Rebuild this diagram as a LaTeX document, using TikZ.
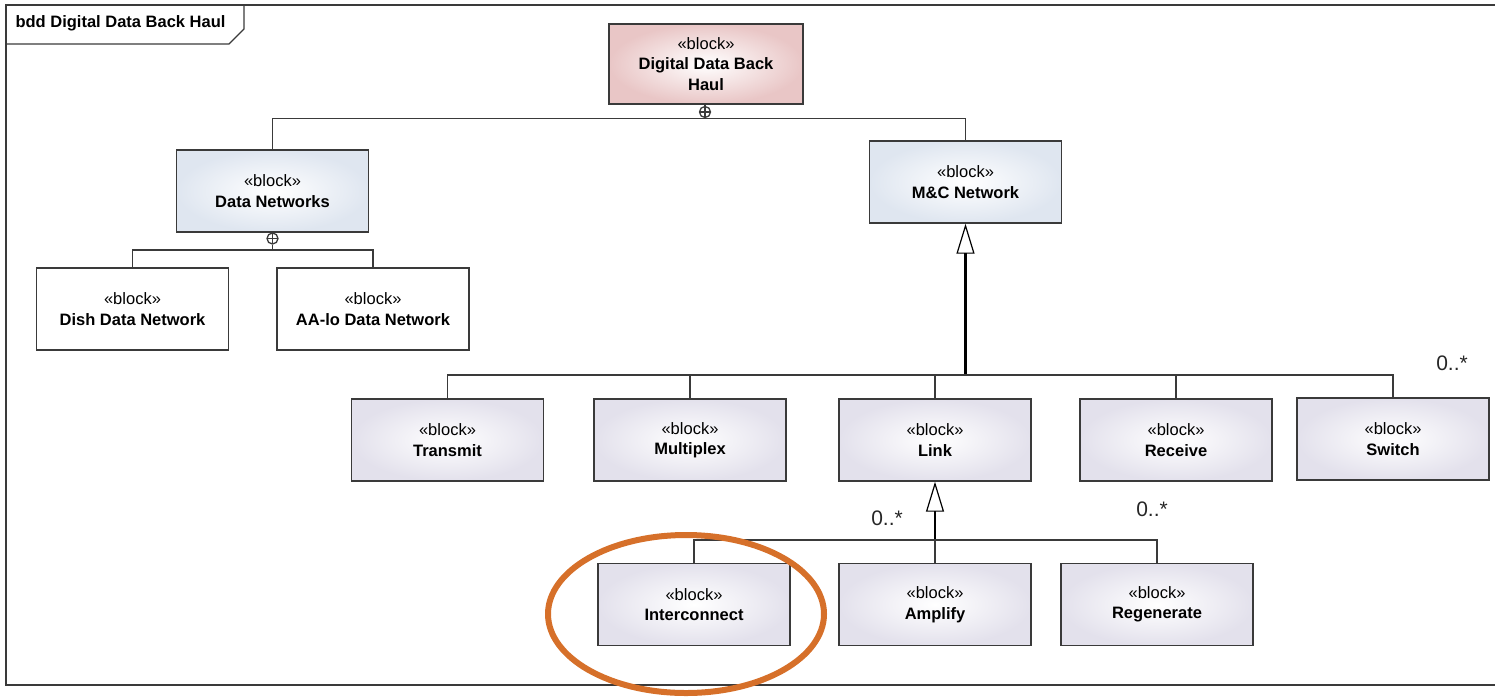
\documentclass[tikz,border=0pt]{standalone}
\usepackage{fontspec}
\setmainfont{Liberation Sans}
\usetikzlibrary{arrows.meta}
\definecolor{edge}{HTML}{3A3A3A}
\definecolor{rootfill}{HTML}{E9C6C6}
\definecolor{netfill}{HTML}{DFE6F0}
\definecolor{partfill}{HTML}{E3E1EC}
\definecolor{ringorange}{HTML}{D6702A}
\tikzset{
  blk/.style={rectangle, draw=edge, line width=1.4pt, minimum width=192pt,
    minimum height=82pt, align=center, inner sep=2pt,
    font=\fontsize{16.5}{20.5}\selectfont},
  rootblk/.style={blk, minimum width=194pt, minimum height=80pt,
    inner color=white, outer color=rootfill},
  netblk/.style={blk, inner color=white, outer color=netfill},
  partblk/.style={blk, inner color=white, outer color=partfill},
  plainblk/.style={blk, fill=white},
  wire/.style={draw=edge, line width=1.3pt},
  genwire/.style={draw=black, line width=2.4pt,
    -{Triangle[open, length=30pt, width=18pt, line width=1.2pt]}},
  oplus/.style={circle, draw=edge, line width=1.3pt, minimum size=11pt,
    inner sep=0pt, fill=white,
    path picture={\draw[edge, line width=1.1pt]
      (path picture bounding box.north) -- (path picture bounding box.south)
      (path picture bounding box.west) -- (path picture bounding box.east);}},
  mult/.style={font=\fontsize{21}{23}\selectfont, text=black!85},
  ring/.style={draw=ringorange, line width=6pt}
}
\newcommand{\stereo}{«block»}
\begin{document}
\begin{tikzpicture}[x=1pt, y=-1pt]
\useasboundingbox (0,0) rectangle (1495,697);

% diagram frame with name tab
\draw[edge, line width=1.6pt] (1495,5) -- (6,5) -- (6,685) -- (1495,685);
\draw[edge, line width=1.3pt] (6,44) -- (229,44) -- (244,29) -- (244,5);
\node[anchor=west, font=\bfseries\fontsize{16.5}{18}\selectfont] (title) at (12,23)
  {bdd Digital Data Back Haul};

% blocks
\node[rootblk] (ddbh) at (706,64) {\stereo\\\textbf{Digital Data Back}\\\textbf{Haul}};
\node[netblk] (dn) at (272.5,191) {\stereo\\\textbf{Data Networks}};
\node[netblk] (mc) at (965.5,182) {\stereo\\\textbf{M\&C Network}};
\node[plainblk] (dish) at (132.5,309) {\stereo\\\textbf{Dish Data Network}};
\node[plainblk] (aa) at (373,309) {\stereo\\\textbf{AA-lo Data Network}};

\node[partblk] (tx) at (447.5,440) {\stereo\\\textbf{Transmit}};
\node[partblk] (mux) at (690,440) {\stereo\\\textbf{Multiplex}};
\node[partblk] (link) at (935,440) {\stereo\\\textbf{Link}};
\node[partblk] (rx) at (1176,440) {\stereo\\\textbf{Receive}};
\node[partblk] (sw) at (1393,439) {\stereo\\\textbf{Switch}};

\node[partblk] (ic) at (694,604.5) {\stereo\\\textbf{Interconnect}};
\node[partblk] (amp) at (935,604.5) {\stereo\\\textbf{Amplify}};
\node[partblk] (regen) at (1157,604.5) {\stereo\\\textbf{Regenerate}};

% composition: Digital Data Back Haul
\node[oplus] (c1) at (705,112) {};
\draw[wire] (ddbh.south -| c1) -- (c1.north);
\draw[wire] (c1.south) -| (dn.north);
\draw[wire] (c1.south) -| (mc.north);

% composition: Data Networks
\node[oplus] (c2) at (272.5,238.5) {};
\coordinate (j2) at (272.5,250);
\draw[wire] (dn.south) -- (c2.north);
\draw[wire] (c2.south) -- (j2) -| (dish.north);
\draw[wire] (j2) -| (aa.north);

% generalization into M&C Network
\coordinate (j1) at (965.5,375);
\draw[genwire] (j1) -- (mc.south);
\draw[wire] (j1) -| (tx.north);
\draw[wire] (j1) -| (sw.north);
\draw[wire] (mux.north) -- (mux.north |- j1);
\draw[wire] (link.north) -- (link.north |- j1);
\draw[wire] (rx.north) -- (rx.north |- j1);

% generalization into Link
\coordinate (j3) at (935,540);
\draw[genwire] (j3) -- (link.south);
\draw[wire] (j3) -| (ic.north);
\draw[wire] (j3) -| (regen.north);
\draw[wire] (amp.north) -- (j3);

% multiplicities
\node[mult] (m1) at (1452,363) {0..*};
\node[mult] (m2) at (887,518) {0..*};
\node[mult] (m3) at (1152,509) {0..*};

% highlight ring
\draw[ring] (686,614) ellipse [x radius=138, y radius=79];
\end{tikzpicture}
\end{document}
